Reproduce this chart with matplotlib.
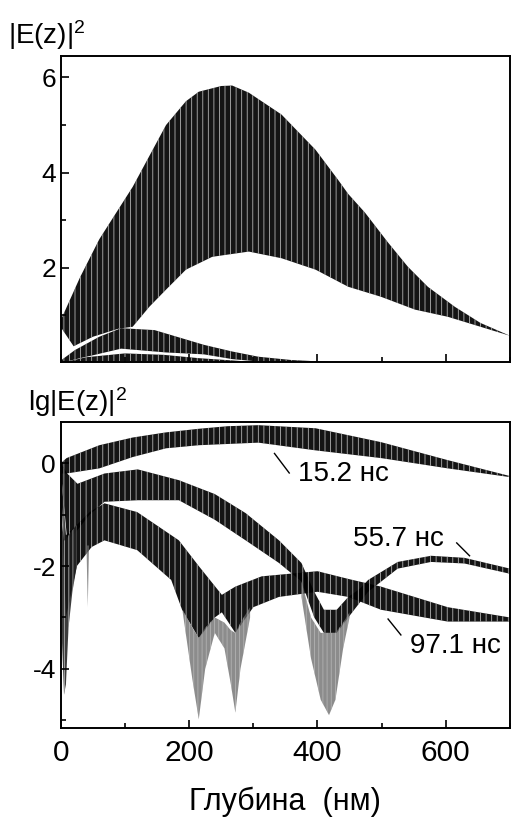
import numpy as np
import matplotlib
matplotlib.use("Agg")
import matplotlib.pyplot as plt
from matplotlib.ticker import MultipleLocator

plt.rcParams['font.family'] = ['Liberation Sans', 'DejaVu Sans']
plt.rcParams['mathtext.fontset'] = 'custom'
plt.rcParams['mathtext.rm'] = 'Liberation Sans'
plt.rcParams['mathtext.it'] = 'Liberation Sans'
plt.rcParams['axes.unicode_minus'] = False
plt.rcParams['hatch.linewidth'] = 0.6

# ---- top panel |E(z)|^2, envelopes of the oscillating bands (depth in nm)
d_a_up = [0, 10, 30, 60, 112, 140, 164, 195, 215, 250, 267, 293, 344, 397, 432, 448, 474, 510, 541, 572, 614, 654, 700]
a_up = [0.9, 1.2, 1.8, 2.6, 3.7, 4.4, 5.0, 5.5, 5.7, 5.82, 5.83, 5.68, 5.22, 4.48, 3.85, 3.55, 3.16, 2.53, 2.02, 1.6, 1.18, 0.84, 0.57]
d_a_lo = [0, 20, 50, 90, 112, 138, 164, 195, 236, 293, 344, 397, 448, 499, 552, 603, 654, 700]
a_lo = [0.75, 0.35, 0.55, 0.72, 0.76, 1.18, 1.54, 1.96, 2.23, 2.34, 2.2, 1.96, 1.6, 1.39, 1.12, 0.97, 0.76, 0.57]

d_b_up = [0, 22, 60, 94, 146, 223, 267, 308, 360, 420]
b_up = [0.05, 0.27, 0.55, 0.73, 0.69, 0.38, 0.24, 0.13, 0.06, 0.02]
d_b_lo = [0, 30, 53, 94, 164, 223, 267, 308, 360, 420]
b_lo = [0.0, 0.1, 0.17, 0.3, 0.22, 0.18, 0.08, 0.03, 0.01, 0.0]

d_c_up = [0, 40, 100, 160, 215, 280, 330]
c_up = [0.0, 0.12, 0.2, 0.17, 0.1, 0.04, 0.01]
d_c_lo = [0, 100, 330]
c_lo = [0.0, 0.04, 0.0]

# ---- bottom panel lg|E(z)|^2
d_l1_up = [0, 9, 60, 112, 164, 215, 260, 308, 397, 499, 603, 700]
l1_up = [0.0, 0.1, 0.35, 0.5, 0.6, 0.67, 0.72, 0.74, 0.68, 0.41, 0.06, -0.25]
d_l1_lo = [0, 9, 60, 112, 164, 215, 308, 397, 499, 603, 700]
l1_lo = [-0.2, -0.2, -0.1, 0.12, 0.29, 0.35, 0.4, 0.25, 0.1, -0.1, -0.27]

d_l2_up = [0, 10, 26, 68, 120, 184, 240, 288, 340, 375, 395, 410, 430, 448, 465, 479, 525, 577, 629, 700]
l2_up = [0.0, -0.2, -0.4, -0.2, -0.12, -0.33, -0.6, -0.97, -1.5, -1.94, -2.5, -2.85, -2.85, -2.6, -2.45, -2.27, -1.92, -1.8, -1.84, -2.05]
d_l2_lo = [0, 10, 26, 45, 68, 120, 184, 240, 288, 340, 375, 395, 410, 430, 448, 479, 525, 577, 629, 700]
l2_lo = [-0.15, -1.5, -1.3, -1.0, -0.75, -0.72, -0.72, -1.1, -1.5, -1.94, -2.3, -3.0, -3.3, -3.3, -3.0, -2.5, -2.05, -1.92, -1.95, -2.15]

d_l3_up = [0, 8, 25, 45, 68, 119, 184, 215, 251, 272, 313, 365, 400, 448, 499, 603, 700]
l3_up = [-0.1, -1.4, -1.2, -0.95, -0.78, -0.95, -1.5, -2.0, -2.56, -2.4, -2.2, -2.14, -2.1, -2.25, -2.4, -2.8, -3.0]
d_l3_lo = [0, 8, 25, 48, 68, 119, 172, 189, 215, 240, 251, 272, 300, 340, 400, 448, 499, 603, 700]
l3_lo = [-0.2, -3.0, -2.0, -1.63, -1.5, -1.69, -2.27, -2.85, -3.4, -3.0, -2.9, -3.3, -2.8, -2.6, -2.5, -2.6, -2.85, -3.08, -3.08]

# deep sparse spikes (nodes of the field)
d_sp1 = [0, 2, 5, 8, 12, 18, 25]
sp1_lo = [-0.2, -3.5, -4.5, -4.3, -3.2, -2.5, -2.0]
sp1_up = [-0.2, -1.2, -1.5, -1.5, -1.4, -1.3, -1.2]
d_sp0 = [40, 42, 44]
sp0_lo = [-1.6, -2.8, -1.6]
sp0_up = [-1.6, -1.6, -1.6]
d_sp2 = [190, 205, 215, 225, 240, 255, 265, 272, 280, 295]
sp2_lo = [-2.9, -4.2, -4.98, -4.0, -3.3, -3.6, -4.3, -4.85, -4.0, -3.0]
sp2_up = [-2.85, -3.2, -3.4, -3.2, -3.0, -3.1, -3.25, -3.3, -3.1, -2.8]
d_sp3 = [375, 390, 405, 418, 428, 440, 450]
sp3_lo = [-2.6, -3.8, -4.6, -4.9, -4.6, -3.6, -3.0]
sp3_up = [-2.3, -3.0, -3.3, -3.3, -3.3, -3.1, -2.9]

labels = ["15.2 нс", "55.7 нс", "97.1 нс"]
label_xy = [(370, -0.21), (456, -1.47), (544, -3.55)]
leader = [((333, 0.19), (356, -0.19)), ((617, -1.55), (637, -1.80)), ((510, -3.03), (530, -3.34))]


def band(ax, du, up, dl, lo, color='black', alpha=0.92, hatch='|||'):
    xs = np.concatenate([du, dl[::-1]])
    ys = np.concatenate([up, lo[::-1]])
    ax.fill(xs, ys, facecolor=color, edgecolor='0.75', lw=0, alpha=alpha, hatch=hatch)


fig = plt.figure(figsize=(5.11, 8.18), dpi=100)
ax1 = fig.add_axes([0.119, 0.5575, 0.879, 0.374])
ax2 = fig.add_axes([0.119, 0.110, 0.879, 0.374])

band(ax1, d_a_up, a_up, d_a_lo, a_lo)
band(ax1, d_b_up, b_up, d_b_lo, b_lo)
band(ax1, d_c_up, c_up, d_c_lo, c_lo)

band(ax2, d_l1_up, l1_up, d_l1_lo, l1_lo)
band(ax2, d_l2_up, l2_up, d_l2_lo, l2_lo)
band(ax2, d_l3_up, l3_up, d_l3_lo, l3_lo)
band(ax2, d_sp1, sp1_up, d_sp1, sp1_lo, color='0.1', alpha=0.85, hatch='||||')
for dd, lo, up in [(d_sp0, sp0_lo, sp0_up), (d_sp2, sp2_lo, sp2_up), (d_sp3, sp3_lo, sp3_up)]:
    band(ax2, dd, up, dd, lo, color='0.4', alpha=0.75, hatch='||||')

for t, (x, y), (p0, p1) in zip(labels, label_xy, leader):
    ax2.text(x, y, t, fontsize=20, va='center', ha='left')
    ax2.plot([p0[0], p1[0]], [p0[1], p1[1]], color='black', lw=1.0)

ax1.set_xlim(0, 700)
ax1.set_ylim(0.02, 6.45)
ax2.set_xlim(0, 700)
ax2.set_ylim(-5.15, 0.8)

for ax in (ax1, ax2):
    ax.xaxis.set_major_locator(MultipleLocator(200))
    ax.xaxis.set_minor_locator(MultipleLocator(100))
    ax.yaxis.set_major_locator(MultipleLocator(2))
    ax.yaxis.set_minor_locator(MultipleLocator(1))
    ax.tick_params(which='both', direction='in', width=1.2)
    ax.tick_params(axis='y', labelsize=19)
    ax.tick_params(axis='x', labelsize=21.5, pad=8)
    ax.tick_params(which='major', length=6)
    ax.tick_params(which='minor', length=3.5)
    for s in ax.spines.values():
        s.set_linewidth(1.4)

ax1.tick_params(labelbottom=False)
ax2.set_xlabel("Глубина  (нм)", fontsize=22, labelpad=14)

fig.text(0.015, 0.937, r"$|\mathrm{E(z)}|^2$", fontsize=20, ha='left', va='bottom')
fig.text(0.055, 0.488, r"$\mathrm{lg}|\mathrm{E(z)}|^2$", fontsize=20, ha='left', va='bottom')

fig.savefig("out.png", dpi=100)
